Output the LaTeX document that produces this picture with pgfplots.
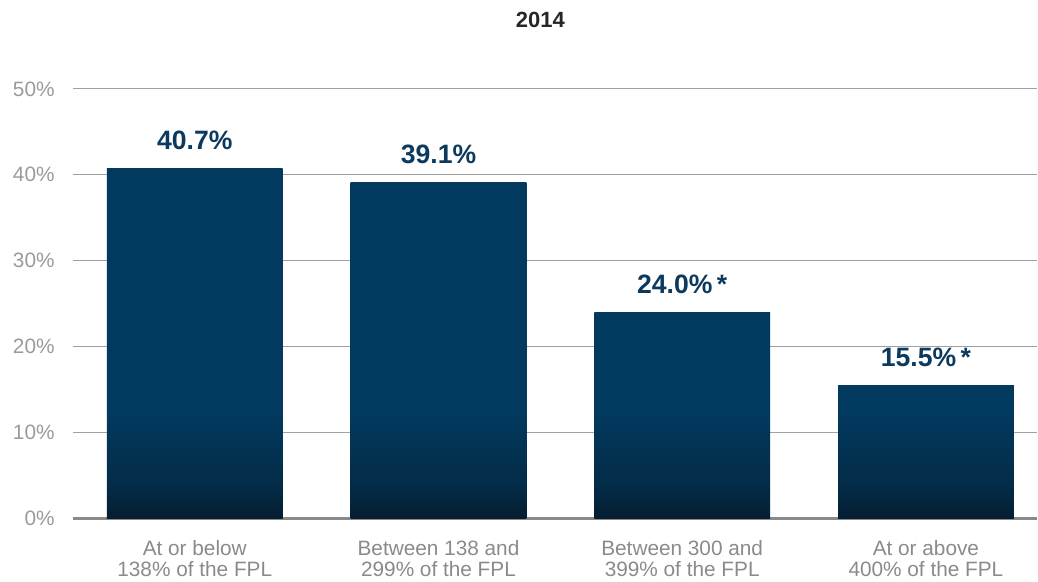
\documentclass[border=0pt]{standalone}
\usepackage{fontspec}
\setmainfont{Liberation Sans}
\usepackage{pgfplots}
\pgfplotsset{compat=1.18}

\definecolor{barcol}{HTML}{02395E}
\definecolor{barmid}{HTML}{032C48}
\definecolor{bardark}{HTML}{061D30}
\definecolor{valcol}{HTML}{0B3A5E}
\definecolor{tickgray}{HTML}{9A9A9A}
\definecolor{catgray}{HTML}{8A8A8A}
\definecolor{gridgray}{HTML}{A0A0A0}

% dark band in the lowest 12% of every bar (path box = 25bp..75bp)
\pgfdeclareverticalshading{bsA}{100bp}{color(0bp)=(bardark); color(25bp)=(bardark); color(29.9bp)=(barmid); color(39.7bp)=(barcol); color(100bp)=(barcol)}
\pgfdeclareverticalshading{bsB}{100bp}{color(0bp)=(bardark); color(25bp)=(bardark); color(30.1bp)=(barmid); color(40.3bp)=(barcol); color(100bp)=(barcol)}
\pgfdeclareverticalshading{bsC}{100bp}{color(0bp)=(bardark); color(25bp)=(bardark); color(33.3bp)=(barmid); color(50bp)=(barcol); color(100bp)=(barcol)}
\pgfdeclareverticalshading{bsD}{100bp}{color(0bp)=(bardark); color(25bp)=(bardark); color(37.9bp)=(barmid); color(63.7bp)=(barcol); color(100bp)=(barcol)}

\begin{document}
\begin{tikzpicture}
\begin{axis}[
    scale only axis,
    width=482.5pt, height=215pt,
    xmin=-0.5, xmax=3.455,
    ymin=0, ymax=50,
    axis line style={draw=none},
    major tick length=0pt,
    ytick={0,10,20,30,40,50},
    ymajorgrids=true,
    grid style={gridgray, line width=0.6pt},
    extra y ticks={0},
    extra y tick labels={},
    extra tick style={grid style={catgray, line width=1.2pt}},
    /pgf/number format/assume math mode=true,
    yticklabel={\pgfmathprintnumber{\tick}\%},
    yticklabel style={font=\fontsize{10.4}{12}\selectfont, text=tickgray, anchor=east, inner sep=0pt, xshift=-9pt},
    xtick={0,1,2,3},
    xticklabels={At or below\\138\% of the FPL, Between 138 and\\299\% of the FPL, Between 300 and\\399\% of the FPL, At or above\\400\% of the FPL},
    xticklabel style={font=\fontsize{10.4}{10.3}\selectfont, text=catgray, align=center, anchor=north, inner sep=0pt, yshift=-11pt},
    ybar, bar width=88pt, bar shift=0pt,
    clip=false,
    point meta=explicit symbolic,
    nodes near coords,
    every node near coord/.append style={font=\fontsize{13.3}{15}\selectfont\bfseries, text=valcol, anchor=base, inner sep=0pt, yshift=9.5pt},
]
\addplot[draw=none, shading=bsA] coordinates {(0,40.7)[40.7\%]};
\addplot[draw=none, shading=bsB] coordinates {(1,39.1)[39.1\%]};
\addplot[draw=none, shading=bsC] coordinates {(2,24.0)[24.0\%\,*]};
\addplot[draw=none, shading=bsD] coordinates {(3,15.5)[15.5\%\,*]};
\end{axis}
\node[font=\fontsize{11}{13}\selectfont\bfseries, text={black!85}, anchor=center] at ([xshift=234pt,yshift=249.5pt]current axis.south west) {2014};
\useasboundingbox ([xshift=-36.5pt,yshift=-31.5pt]current axis.south west) rectangle ([yshift=44.5pt]current axis.north east);
\end{tikzpicture}
\end{document}
